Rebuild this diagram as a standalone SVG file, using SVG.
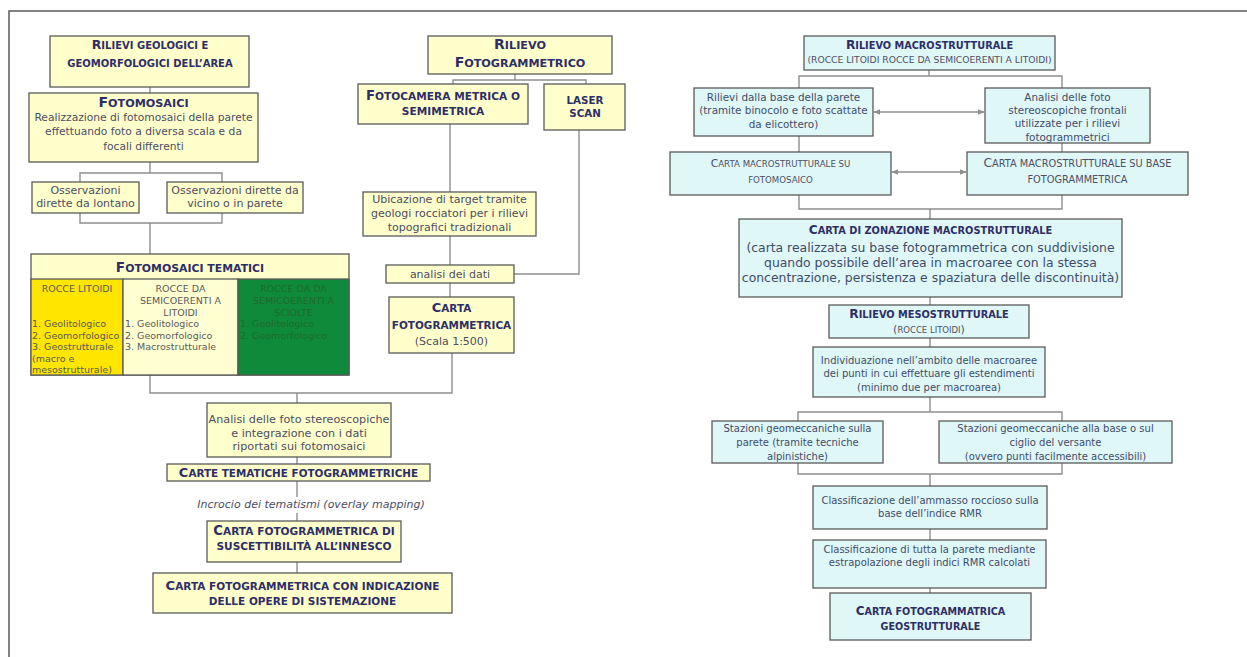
<svg xmlns="http://www.w3.org/2000/svg" width="1247" height="657" viewBox="0 0 1247 657">
<style>
text{font-family:"DejaVu Sans",Verdana,sans-serif}
.y{fill:#FFFFCC;stroke:#5a5a5a;stroke-width:1.3}
.c{fill:#E0F7F8;stroke:#5a5a5a;stroke-width:1.3}
.h{font-weight:bold;fill:#2e2e66;text-anchor:middle}
.s{fill:#4d5066;text-anchor:middle}
.b{fill:#4d4d62;text-anchor:middle}
.r{fill:#3f4c68;text-anchor:middle}
.l{fill:#5a5a5a;font-size:9.5px}
.g{fill:#1d6b2c;font-size:9.5px}
.k line,.k path{stroke:#8f8f8f;stroke-width:1.4;fill:none}
</style>
<defs>
<marker id="a" viewBox="0 0 10 10" refX="9" refY="5" markerWidth="5" markerHeight="5" orient="auto-start-reverse"><path d="M0,1L10,5L0,9z" fill="#8f8f8f"/></marker>
</defs>
<rect width="1247" height="657" fill="#fff"/>
<path d="M9,657V11H1247" fill="none" stroke="#5a5a5a" stroke-width="1.5"/>

<g class="k" id="connectors">
<line x1="150" y1="87" x2="150" y2="93"/>
<path d="M150,162V173M80,182V173H222V182"/>
<path d="M80,213V223H222V213M150,223V254"/>
<path d="M150,375V393H452V353"/>
<line x1="297" y1="393" x2="297" y2="403"/>
<line x1="297" y1="457" x2="297" y2="464"/>
<line x1="297" y1="481" x2="297" y2="497"/>
<line x1="297" y1="513" x2="297" y2="521"/>
<line x1="297" y1="562" x2="297" y2="573"/>
<path d="M515,74V80M453,84V80H586V84"/>
<line x1="450" y1="124" x2="450" y2="192"/>
<path d="M579,130V274H514"/>
<line x1="450" y1="236" x2="450" y2="265"/>
<line x1="450" y1="283" x2="450" y2="297"/>
<path d="M929,70V76M799,88V76H1062V88"/>
<line x1="874" y1="112" x2="984" y2="112" marker-start="url(#a)" marker-end="url(#a)"/>
<line x1="799" y1="136" x2="799" y2="152"/>
<line x1="1062" y1="143" x2="1062" y2="152"/>
<line x1="892" y1="172" x2="966" y2="172" marker-start="url(#a)" marker-end="url(#a)"/>
<path d="M799,195V209H1062V195M930,209V219"/>
<line x1="930" y1="297" x2="930" y2="305"/>
<line x1="930" y1="338" x2="930" y2="347"/>
<path d="M930,397V412M798,421V412H1062V421"/>
<path d="M798,463V474H1062V463M930,474V486"/>
<line x1="930" y1="529" x2="930" y2="540"/>
<line x1="930" y1="588" x2="930" y2="593"/>
</g>

<g id="rilievi-geologici">
<rect class="y" x="50" y="36" width="199" height="51"/>
<text class="h" x="150" y="49" font-size="10"><tspan font-size="12.5">R</tspan>ILIEVI GEOLOGICI E</text>
<text class="h" x="150" y="67" font-size="10">GEOMORFOLOGICI DELL’AREA</text>
</g>

<g id="fotomosaici">
<rect class="y" x="29" y="93" width="229" height="69"/>
<text class="h" x="143.5" y="107" font-size="11.2"><tspan font-size="14">F</tspan>OTOMOSAICI</text>
<text class="b" x="143.5" y="121" font-size="10.7">Realizzazione di fotomosaici della parete</text>
<text class="b" x="143.5" y="135" font-size="10.7">effettuando foto a diversa scala e da</text>
<text class="b" x="143.5" y="150" font-size="10.7">focali differenti</text>
</g>

<g id="oss-lontano">
<rect class="y" x="32" y="182" width="107" height="31"/>
<text class="b" x="85.5" y="194" font-size="11">Osservazioni</text>
<text class="b" x="85.5" y="207" font-size="11">dirette da lontano</text>
</g>

<g id="oss-vicino">
<rect class="y" x="167" y="182" width="136" height="31"/>
<text class="b" x="235" y="194" font-size="11">Osservazioni dirette da</text>
<text class="b" x="235" y="207" font-size="11">vicino o  in parete</text>
</g>

<g id="fotomosaici-tematici">
<rect class="y" x="31" y="254" width="318" height="121"/>
<rect x="31" y="279" width="92" height="96" fill="#FFE600" stroke="#5a5a5a" stroke-width="1.3"/>
<rect x="123" y="279" width="115" height="96" fill="#FFFFD2" stroke="#5a5a5a" stroke-width="1.3"/>
<rect x="238" y="279" width="111" height="96" fill="#0F8A3A" stroke="#5a5a5a" stroke-width="1.3"/>
<text class="h" x="190" y="272" font-size="10.9"><tspan font-size="13.6">F</tspan>OTOMOSAICI TEMATICI</text>
<text class="l" x="77" y="292" text-anchor="middle">ROCCE LITOIDI</text>
<text class="l" x="32" y="327">1. Geolitologico</text>
<text class="l" x="32" y="338.5">2. Geomorfologico</text>
<text class="l" x="32" y="350">3. Geostrutturale</text>
<text class="l" x="32" y="361.5">(macro e</text>
<text class="l" x="32" y="373">mesostrutturale)</text>
<text class="l" x="180.5" y="292" text-anchor="middle">ROCCE DA</text>
<text class="l" x="180.5" y="304" text-anchor="middle">SEMICOERENTI A</text>
<text class="l" x="180.5" y="316" text-anchor="middle">LITOIDI</text>
<text class="l" x="125" y="327">1. Geolitologico</text>
<text class="l" x="125" y="338.5">2. Geomorfologico</text>
<text class="l" x="125" y="350">3. Macrostrutturale</text>
<text class="g" x="293.5" y="292" text-anchor="middle">ROCCE DA DA</text>
<text class="g" x="293.5" y="304" text-anchor="middle">SEMICOERENTI A</text>
<text class="g" x="293.5" y="316" text-anchor="middle">SCIOLTE</text>
<text class="g" x="240" y="327">1. Geolitologico</text>
<text class="g" x="240" y="338.5">2. Geomorfologico</text>
</g>

<g id="rilievo-fotogrammetrico">
<rect class="y" x="428" y="36" width="184" height="38"/>
<text class="h" x="520" y="49" font-size="11.2"><tspan font-size="14">R</tspan>ILIEVO</text>
<text class="h" x="520" y="67" font-size="11.2"><tspan font-size="14">F</tspan>OTOGRAMMETRICO</text>
</g>

<g id="fotocamera">
<rect class="y" x="358" y="84" width="170" height="40"/>
<text class="h" x="443" y="100" font-size="10.6"><tspan font-size="13.2">F</tspan>OTOCAMERA METRICA O</text>
<text class="h" x="443" y="115" font-size="10.6">SEMIMETRICA</text>
</g>

<g id="laser-scan">
<rect class="y" x="544" y="84" width="81" height="46"/>
<text class="h" x="585" y="104" font-size="10.3">LASER</text>
<text class="h" x="585" y="117" font-size="10.3">SCAN</text>
</g>

<g id="ubicazione">
<rect class="y" x="363" y="192" width="173" height="44"/>
<text class="b" x="449.5" y="203" font-size="11">Ubicazione di target tramite</text>
<text class="b" x="449.5" y="217" font-size="11">geologi rocciatori per i rilievi</text>
<text class="b" x="449.5" y="231" font-size="11">topografici tradizionali</text>
</g>

<g id="analisi-dati">
<rect class="y" x="386" y="265" width="128" height="18"/>
<text class="b" x="450" y="278" font-size="11">analisi dei dati</text>
</g>

<g id="carta-fotogrammetrica">
<rect class="y" x="389" y="297" width="125" height="56"/>
<text class="h" x="451.5" y="312" font-size="10.45"><tspan font-size="13">C</tspan>ARTA</text>
<text class="h" x="451.5" y="329" font-size="10.45">FOTOGRAMMETRICA</text>
<text class="b" x="451.5" y="345" font-size="11">(Scala 1:500)</text>
</g>

<g id="analisi-foto">
<rect class="y" x="207" y="403" width="184" height="54"/>
<text class="b" x="299" y="423" font-size="11.2">Analisi delle foto stereoscopiche</text>
<text class="b" x="299" y="437" font-size="11.2">e integrazione con i dati</text>
<text class="b" x="299" y="450" font-size="11.2">riportati sui fotomosaici</text>
</g>

<g id="carte-tematiche">
<rect class="y" x="167" y="464" width="263" height="17"/>
<text class="h" x="298.5" y="477" font-size="10.4"><tspan font-size="13">C</tspan>ARTE TEMATICHE FOTOGRAMMETRICHE</text>
</g>

<g id="incrocio">
<text class="b" x="311" y="508" font-size="11" font-style="italic">Incrocio dei tematismi (overlay mapping)</text>
</g>

<g id="carta-suscettibilita">
<rect class="y" x="207" y="521" width="194" height="41"/>
<text class="h" x="304" y="535" font-size="10.6"><tspan font-size="13.2">C</tspan>ARTA FOTOGRAMMETRICA DI</text>
<text class="h" x="304" y="550" font-size="10.6">SUSCETTIBILITÀ ALL’INNESCO</text>
</g>

<g id="carta-opere">
<rect class="y" x="153" y="573" width="299" height="40"/>
<text class="h" x="302.5" y="590" font-size="10.5"><tspan font-size="13.1">C</tspan>ARTA FOTOGRAMMETRICA CON INDICAZIONE</text>
<text class="h" x="302.5" y="605" font-size="10.5">DELLE OPERE DI SISTEMAZIONE</text>
</g>

<g id="rilievo-macro">
<rect class="c" x="804" y="36" width="251" height="34"/>
<text class="h" x="929.5" y="49" font-size="9.75"><tspan font-size="12.2">R</tspan>ILIEVO MACROSTRUTTURALE</text>
<text class="s" x="929.5" y="63" font-size="9.2">(ROCCE LITOIDI ROCCE DA SEMICOERENTI A LITOIDI)</text>
</g>

<g id="rilievi-base">
<rect class="c" x="694" y="88" width="179" height="48"/>
<text class="r" x="783.5" y="101" font-size="10.4">Rilievi dalla base della parete</text>
<text class="r" x="783.5" y="114" font-size="10.4">(tramite binocolo e foto scattate</text>
<text class="r" x="783.5" y="128" font-size="10.4">da elicottero)</text>
</g>

<g id="analisi-frontali">
<rect class="c" x="985" y="88" width="165" height="55"/>
<text class="r" x="1067.5" y="101" font-size="10.4">Analisi delle foto</text>
<text class="r" x="1067.5" y="114" font-size="10.4">stereoscopiche  frontali</text>
<text class="r" x="1067.5" y="127" font-size="10.4">utilizzate per i rilievi</text>
<text class="r" x="1067.5" y="141" font-size="10.4">fotogrammetrici</text>
</g>

<g id="carta-macro-fotomosaico">
<rect class="c" x="670" y="152" width="221" height="43"/>
<text class="s" x="780.5" y="167" font-size="8.6"><tspan font-size="10.8">C</tspan>ARTA MACROSTRUTTURALE SU</text>
<text class="s" x="780.5" y="183" font-size="8.6">FOTOMOSAICO</text>
</g>

<g id="carta-macro-base">
<rect class="c" x="967" y="152" width="221" height="43"/>
<text class="s" x="1077.5" y="167" font-size="9.8"><tspan font-size="12.2">C</tspan>ARTA MACROSTRUTTURALE SU BASE</text>
<text class="s" x="1077.5" y="183" font-size="9.8">FOTOGRAMMETRICA</text>
</g>

<g id="carta-zonazione">
<rect class="c" x="739" y="219" width="383" height="78"/>
<text class="h" x="930.5" y="234" font-size="9.8"><tspan font-size="12.2">C</tspan>ARTA DI ZONAZIONE MACROSTRUTTURALE</text>
<text class="r" x="930.5" y="252" font-size="12.4">(carta realizzata su base fotogrammetrica con suddivisione</text>
<text class="r" x="930.5" y="267" font-size="12.4">quando possibile dell’area in macroaree con la stessa</text>
<text class="r" x="930.5" y="282" font-size="12.4">concentrazione, persistenza e spaziatura delle discontinuità)</text>
</g>

<g id="rilievo-meso">
<rect class="c" x="829" y="305" width="200" height="33"/>
<text class="h" x="929" y="318" font-size="9.8"><tspan font-size="12.2">R</tspan>ILIEVO MESOSTRUTTURALE</text>
<text class="s" x="929" y="333" font-size="8.5"><tspan font-size="11">(</tspan>ROCCE LITOIDI<tspan font-size="11">)</tspan></text>
</g>

<g id="individuazione">
<rect class="c" x="813" y="347" width="232" height="50"/>
<text class="r" x="929" y="364" font-size="10">Individuazione nell’ambito delle macroaree</text>
<text class="r" x="929" y="377" font-size="10">dei punti in cui effettuare gli estendimenti</text>
<text class="r" x="929" y="391" font-size="10">(minimo due per macroarea)</text>
</g>

<g id="stazioni-parete">
<rect class="c" x="712" y="421" width="171" height="42"/>
<text class="r" x="797.5" y="432" font-size="10">Stazioni geomeccaniche sulla</text>
<text class="r" x="797.5" y="446" font-size="10">parete (tramite tecniche</text>
<text class="r" x="797.5" y="460" font-size="10">alpinistiche)</text>
</g>

<g id="stazioni-base">
<rect class="c" x="939" y="421" width="233" height="42"/>
<text class="r" x="1055.5" y="432" font-size="10">Stazioni geomeccaniche alla base o sul</text>
<text class="r" x="1055.5" y="446" font-size="10">ciglio del versante</text>
<text class="r" x="1055.5" y="460" font-size="10">(ovvero punti facilmente accessibili)</text>
</g>

<g id="classificazione-rmr">
<rect class="c" x="813" y="486" width="234" height="43"/>
<text class="r" x="930" y="504" font-size="10">Classificazione dell’ammasso roccioso sulla</text>
<text class="r" x="930" y="517" font-size="10">base dell’indice RMR</text>
</g>

<g id="classificazione-parete">
<rect class="c" x="813" y="540" width="233" height="48"/>
<text class="r" x="929.5" y="553" font-size="10">Classificazione di tutta la parete mediante</text>
<text class="r" x="929.5" y="566" font-size="10">estrapolazione degli indici RMR calcolati</text>
</g>

<g id="carta-geostrutturale">
<rect class="c" x="830" y="593" width="201" height="47"/>
<text class="h" x="930.5" y="615" font-size="9.6"><tspan font-size="12">C</tspan>ARTA FOTOGRAMMATRICA</text>
<text class="h" x="930.5" y="630" font-size="9.6">GEOSTRUTTURALE</text>
</g>
</svg>
